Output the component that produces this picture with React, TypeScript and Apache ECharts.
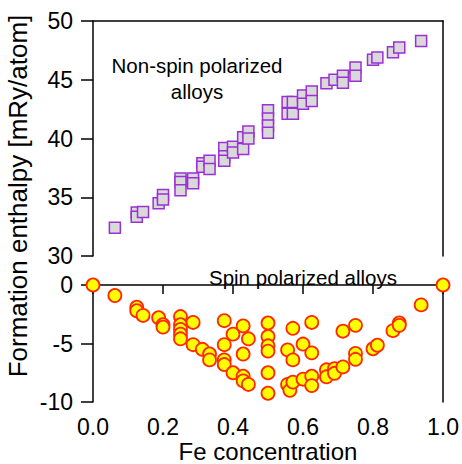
import React, { useEffect, useRef } from "react";
import * as echarts from "echarts";

// Non-spin polarized alloys (squares)
const nspConc = [
  0.0625, 0.125, 0.125, 0.143, 0.1875, 0.2, 0.2, 0.25, 0.25, 0.25, 0.286, 0.286,
  0.3125, 0.3125, 0.333, 0.333, 0.375, 0.375, 0.375, 0.4, 0.4, 0.429, 0.429, 0.444,
  0.444, 0.5, 0.5, 0.5, 0.5, 0.556, 0.556, 0.571, 0.571, 0.6, 0.6, 0.625, 0.625,
  0.667, 0.69, 0.714, 0.714, 0.75, 0.75, 0.8, 0.8125, 0.857, 0.875, 0.9375,
];
const nspEnthalpy = [
  32.4, 33.7, 33.35, 33.75, 34.5, 35.2, 34.8, 36.6, 36.3, 35.6, 36.6, 36.2,
  37.9, 37.6, 38.1, 37.4, 39.2, 38.5, 38.1, 39.3, 38.8, 40.1, 39.1, 40.6,
  40.0, 42.4, 41.7, 41.1, 40.5, 43.1, 42.1, 43.1, 42.1, 43.65, 42.95, 44.0, 43.2,
  44.7, 45.0, 45.35, 44.75, 46.05, 45.35, 46.7, 46.9, 47.35, 47.75, 48.3,
];

// Spin polarized alloys (circles)
const spConc = [
  0, 0.0625, 0.125, 0.125, 0.143, 0.1875, 0.2, 0.2, 0.25, 0.25, 0.25, 0.25, 0.25,
  0.286, 0.286, 0.3125, 0.333, 0.333, 0.375, 0.375, 0.375, 0.375, 0.4, 0.4,
  0.429, 0.429, 0.429, 0.429, 0.444, 0.444, 0.5, 0.5, 0.5, 0.5, 0.5, 0.5,
  0.556, 0.556, 0.5625, 0.571, 0.571, 0.571, 0.6, 0.6, 0.625, 0.625, 0.625, 0.625,
  0.667, 0.667, 0.69, 0.69, 0.714, 0.714, 0.75, 0.75, 0.75, 0.8, 0.8125,
  0.857, 0.875, 0.875, 0.9375, 1,
];
const spEnthalpy = [
  0, -0.9, -1.9, -2.2, -2.6, -2.8, -3.4, -3.6, -2.7, -3.4, -3.8, -4.2, -4.6,
  -3.2, -5.1, -5.5, -5.9, -6.4, -3.05, -5.1, -6.4, -6.8, -4.2, -7.5,
  -3.5, -5.9, -7.8, -8.2, -4.6, -8.5, -3.25, -4.4, -5.2, -5.65, -7.5, -9.25,
  -5.55, -8.5, -9.0, -3.7, -6.4, -8.3, -5.05, -8.05, -3.2, -5.8, -7.8, -8.6,
  -7.25, -7.85, -7.15, -7.55, -3.95, -7.0, -3.45, -5.85, -6.35, -5.45, -5.15,
  -3.9, -3.25, -3.45, -1.7, 0,
];

const FONT = "'Liberation Sans', Arial, Helvetica, sans-serif";

export default function App() {
  const ref = useRef<HTMLDivElement>(null);
  useEffect(() => {
    if (!ref.current) return;
    const chart = echarts.init(ref.current, undefined, { renderer: "svg" });
    const axisLine = { show: true, lineStyle: { color: "#000", width: 1.5 } };
    const labelStyle = { color: "#000", fontSize: 23, fontFamily: FONT };
    chart.setOption({
      animation: false,
      backgroundColor: "#fff",
      grid: [
        { left: 93, top: 21, width: 350, height: 235 },
        { left: 93, top: 285, width: 350, height: 117 },
      ],
      xAxis: [
        {
          type: "value", gridIndex: 0, position: "top", min: 0, max: 1,
          axisLine, axisTick: { show: false }, axisLabel: { show: false }, splitLine: { show: false },
        },
        {
          type: "value", gridIndex: 1, position: "bottom", min: 0, max: 1, interval: 0.2,
          axisLine,
          axisTick: { show: true, length: 9, lineStyle: { color: "#000", width: 1.5 } },
          axisLabel: { ...labelStyle, margin: 13, formatter: (v: number) => v.toFixed(1) },
          splitLine: { show: false },
        },
      ],
      yAxis: [
        {
          type: "value", gridIndex: 0, position: "left", min: 30, max: 50, interval: 5,
          axisLine,
          axisTick: { show: true, length: 12, lineStyle: { color: "#000", width: 1.5 } },
          axisLabel: { ...labelStyle, margin: 20 },
          splitLine: { show: false },
        },
        {
          type: "value", gridIndex: 0, position: "right", min: 30, max: 50,
          axisLine, axisTick: { show: false }, axisLabel: { show: false }, splitLine: { show: false },
        },
        {
          type: "value", gridIndex: 1, position: "left", min: -10, max: 0, interval: 5,
          axisLine,
          axisTick: { show: true, length: 12, lineStyle: { color: "#000", width: 1.5 } },
          axisLabel: { ...labelStyle, margin: 20 },
          splitLine: { show: false },
        },
        {
          type: "value", gridIndex: 1, position: "right", min: -10, max: 0, interval: 10,
          axisLine,
          axisTick: { show: true, length: 6, customValues: [0], lineStyle: { color: "#000", width: 1.5 } },
          axisLabel: { show: false },
          splitLine: { show: false },
        },
      ],
      series: [
        {
          type: "scatter", xAxisIndex: 0, yAxisIndex: 0, clip: false,
          symbol: "rect", symbolSize: 11,
          itemStyle: { color: "#d9d9d9", borderColor: "#9b30d6", borderWidth: 1.5, opacity: 1 },
          data: nspConc.map((c, i) => [c, nspEnthalpy[i]]),
        },
        {
          type: "scatter", xAxisIndex: 1, yAxisIndex: 2, clip: false,
          symbol: "circle", symbolSize: 13,
          itemStyle: { color: "#ffff00", borderColor: "#ff2a00", borderWidth: 1.8, opacity: 1 },
          data: spConc.map((c, i) => [c, spEnthalpy[i]]),
        },
      ],
      graphic: [
        {
          type: "text", x: 18, y: 196, rotation: Math.PI / 2,
          style: {
            text: "Formation enthalpy [mRy/atom]", fill: "#000", fontSize: 26, fontFamily: FONT,
            textAlign: "center", textVerticalAlign: "middle",
          },
        },
        {
          type: "text", x: 268, y: 451,
          style: {
            text: "Fe concentration", fill: "#000", fontSize: 24, fontFamily: FONT,
            textAlign: "center", textVerticalAlign: "middle",
          },
        },
        {
          type: "text", x: 197, y: 78,
          style: {
            text: "Non-spin polarized\nalloys", fill: "#000", fontSize: 20.5, lineHeight: 26,
            fontFamily: FONT, textAlign: "center", textVerticalAlign: "middle",
          },
        },
        {
          type: "text", x: 303, y: 277,
          style: {
            text: "Spin polarized alloys", fill: "#000", fontSize: 20.5, fontFamily: FONT,
            textAlign: "center", textVerticalAlign: "middle",
          },
        },
      ],
    });
    return () => chart.dispose();
  }, []);
  return (
    <div
      ref={ref}
      style={{ position: "fixed", left: 0, top: 0, width: 462, height: 464, background: "#fff" }}
    />
  );
}
